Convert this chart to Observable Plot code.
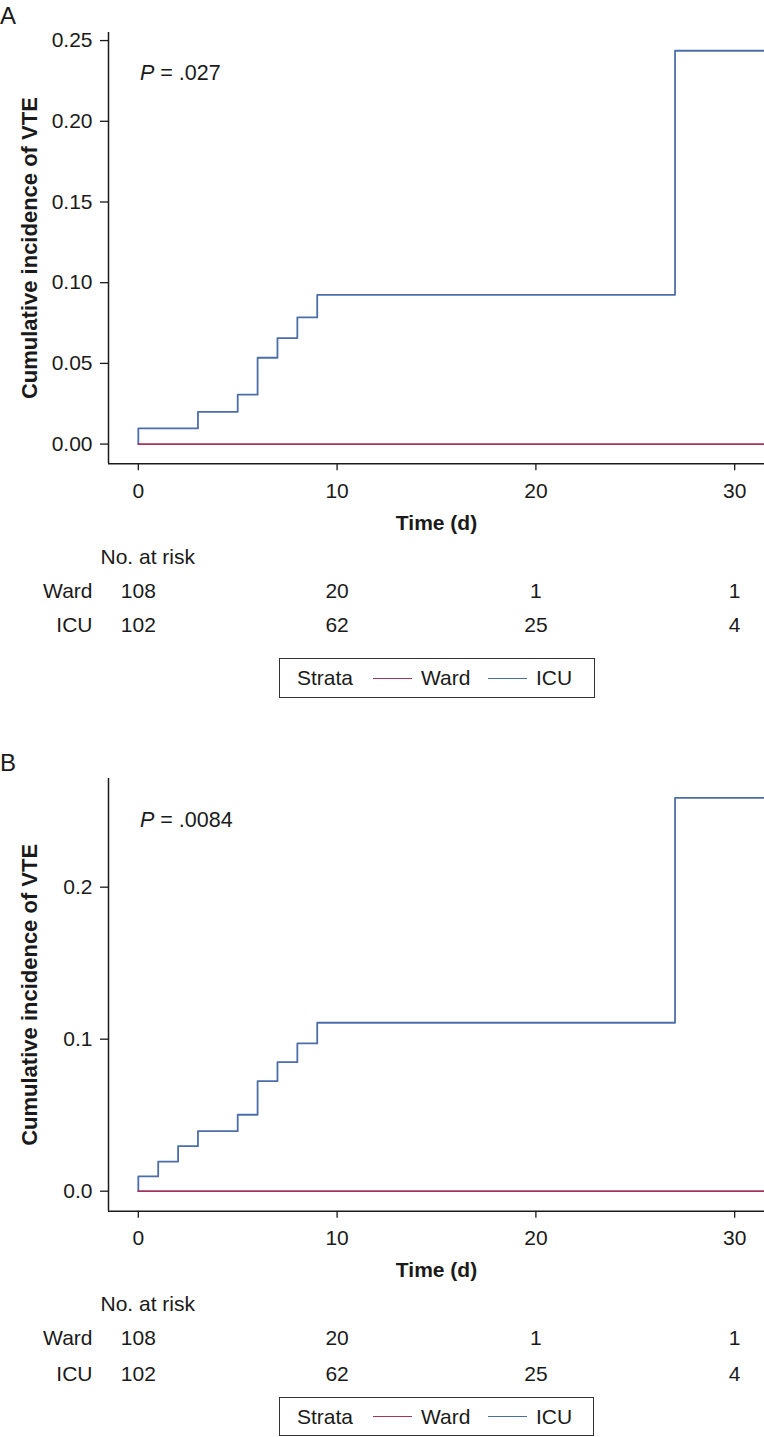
<!DOCTYPE html>
<html><head><meta charset="utf-8">
<script src="https://cdn.jsdelivr.net/npm/d3@7"></script>
<script src="https://cdn.jsdelivr.net/npm/@observablehq/plot@0.6"></script>
<style>
body{margin:0;background:#fff;font-family:"Liberation Sans",Arial,Helvetica,sans-serif;color:#1a1a1a}
#page{position:relative;width:764px;height:1437px;overflow:hidden;background:#fff}
.abs{position:absolute;line-height:1;white-space:nowrap}
.legend{position:absolute;border:1.5px solid #333;box-sizing:border-box;background:#fff}
.sw{position:absolute;height:0;border-top:1.6px solid}
</style></head><body><div id="page"></div>
<script>
// ---------- data ----------
const strata = ["Ward", "ICU"];
const strataColors = ["#a3355a", "#4c6ea8"];
const xTicks = [0, 10, 20, 30];
const riskTimes = [0, 10, 20, 30];
const followUpEnd = 32;

// Panel A
const icuEventTimesA = [0, 3, 5, 6, 7, 8, 9, 27];
const icuIncidenceA = [0.0097, 0.0200, 0.0306, 0.0535, 0.0657, 0.0785, 0.0925, 0.2437];
const wardEventTimesA = [];
const wardIncidenceA = [];
const atRiskWardA = [108, 20, 1, 1];
const atRiskIcuA = [102, 62, 25, 4];
const pValueA = ".027";
const yTicksA = [0, 0.05, 0.10, 0.15, 0.20, 0.25];

// Panel B
const icuEventTimesB = [0, 1, 2, 3, 5, 6, 7, 8, 9, 27];
const icuIncidenceB = [0.0097, 0.0195, 0.0296, 0.0395, 0.0503, 0.0724, 0.0849, 0.0972, 0.1108, 0.2588];
const wardEventTimesB = [];
const wardIncidenceB = [];
const atRiskWardB = [108, 20, 1, 1];
const atRiskIcuB = [102, 62, 25, 4];
const pValueB = ".0084";
const yTicksB = [0, 0.1, 0.2];

// ---------- helpers ----------
const FONT = '"Liberation Sans", Arial, Helvetica, sans-serif';
const INK = "#1a1a1a";
const xDomain = [-1.5, 31.5];
const page = document.getElementById("page");

function stepSeries(times, values, name) {
  const pts = [{time: 0, value: 0, strata: name}];
  times.forEach((t, i) => pts.push({time: t, value: values[i], strata: name}));
  pts.push({time: followUpEnd, value: pts[pts.length - 1].value, strata: name});
  return pts;
}

function place(el, top, left) {
  el.style.position = "absolute";
  el.style.top = top + "px";
  el.style.left = left + "px";
  page.appendChild(el);
}

function htmlText(html, left, baseline, size, extra) {
  const d = document.createElement("div");
  d.className = "abs";
  d.style.fontSize = size + "px";
  d.innerHTML = html;
  if (extra) Object.assign(d.style, extra);
  d.style.left = left + "px";
  d.style.top = (baseline - 0.8465 * size) + "px";
  page.appendChild(d);
  return d;
}

function mainPlot(cfg) {
  const rows = [
    ...stepSeries(cfg.icuTimes, cfg.icuVals, "ICU"),
    ...stepSeries(cfg.wardTimes, cfg.wardVals, "Ward")
  ];
  return Plot.plot({
    width: 764, height: cfg.height,
    marginLeft: 108, marginRight: 0, marginTop: cfg.marginTop,
    marginBottom: cfg.height - cfg.axisPos,
    style: {fontFamily: FONT, fontSize: "21px", color: INK, background: "transparent", overflow: "visible"},
    x: {domain: xDomain},
    y: {domain: cfg.yDomain},
    color: {domain: strata, range: strataColors},
    marks: [
      Plot.axisX({ticks: xTicks, tickSize: 7, tickPadding: 12, label: null, fontSize: 21, strokeWidth: 1.3}),
      Plot.axisY({ticks: cfg.yTicks, tickFormat: d3.format(cfg.fmt), tickSize: 8, tickPadding: 8, label: null, fontSize: 21, strokeWidth: 1.3}),
      Plot.ruleX([xDomain[0]], {stroke: INK, strokeWidth: 1.5}),
      Plot.ruleY([cfg.yDomain[0]], {stroke: INK, strokeWidth: 1.5}),
      Plot.line(rows, {x: "time", y: "value", z: "strata", stroke: "strata", curve: "step-after", strokeWidth: 1.8, clip: true}),
      Plot.text(["Time (d)"], {text: d => d, frameAnchor: "bottom", dy: 59, lineAnchor: "middle", textAnchor: "middle", fontWeight: "bold", fontSize: 21}),
      Plot.text(["Cumulative incidence of VTE"], {text: d => d, frameAnchor: "left", dx: -79, rotate: -90, textAnchor: "middle", lineAnchor: "middle", fontWeight: "bold", fontSize: 22})
    ]
  });
}

function riskPlot(cfg) {
  const rows = [];
  riskTimes.forEach((t, i) => {
    rows.push({time: t, strata: "Ward", n: cfg.ward[i]});
    rows.push({time: t, strata: "ICU", n: cfg.icu[i]});
  });
  return Plot.plot({
    width: 764, height: cfg.height,
    marginLeft: 108, marginRight: 0, marginTop: cfg.marginTop, marginBottom: cfg.marginBottom,
    style: {fontFamily: FONT, fontSize: "21px", color: INK, background: "transparent", overflow: "visible"},
    x: {domain: xDomain, axis: null},
    y: {type: "point", domain: strata, padding: 0},
    marks: [
      Plot.axisY({tickSize: 0, tickPadding: 16, label: null, fontSize: 21}),
      Plot.text(rows, {x: "time", y: "strata", text: "n", fontSize: 21}),
      Plot.text(["No. at risk"], {text: d => d, frameAnchor: "top-left", dx: -8, dy: -34, textAnchor: "start", lineAnchor: "middle", fontSize: 21})
    ]
  });
}

function legend(top, left, w, h) {
  const box = document.createElement("div");
  box.className = "legend";
  Object.assign(box.style, {top: top + "px", left: left + "px", width: w + "px", height: h + "px"});
  const mid = h / 2 - 1.5;
  const items = [
    {type: "t", text: "Strata", x: 17},
    {type: "s", color: strataColors[0], x: 93, w: 39},
    {type: "t", text: strata[0], x: 141},
    {type: "s", color: strataColors[1], x: 208, w: 39},
    {type: "t", text: strata[1], x: 256}
  ];
  items.forEach(it => {
    const e = document.createElement(it.type === "t" ? "div" : "i");
    if (it.type === "t") {
      e.className = "abs";
      e.style.fontSize = "21px";
      e.textContent = it.text;
      e.style.left = it.x + "px";
      e.style.top = (mid - 10.5) + "px";
    } else {
      e.className = "sw";
      e.style.borderTopColor = it.color;
      e.style.left = it.x + "px";
      e.style.width = it.w + "px";
      e.style.top = (mid) + "px";
    }
    box.appendChild(e);
  });
  page.appendChild(box);
}

// ---------- panel A ----------
htmlText("A", 0, 24, 24);
place(mainPlot({
  icuTimes: icuEventTimesA, icuVals: icuIncidenceA,
  wardTimes: wardEventTimesA, wardVals: wardIncidenceA,
  yDomain: [-0.01221, 0.2550], yTicks: yTicksA, fmt: ".2f",
  height: 540, marginTop: 32, axisPos: 463.3
}), 0, 0);
htmlText("<i>P</i> = " + pValueA, 140, 81, 21.5);
place(riskPlot({ward: atRiskWardA, icu: atRiskIcuA, height: 100, marginTop: 51, marginBottom: 15}), 540, 0);
legend(658, 279, 316, 40);

// ---------- panel B ----------
htmlText("B", 0, 771, 24);
place(mainPlot({
  icuTimes: icuEventTimesB, icuVals: icuIncidenceB,
  wardTimes: wardEventTimesB, wardVals: wardIncidenceB,
  yDomain: [-0.01316, 0.2715], yTicks: yTicksB, fmt: ".1f",
  height: 540, marginTop: 32, axisPos: 464.7
}), 746, 0);
htmlText("<i>P</i> = " + pValueB, 140, 828, 21.5);
place(riskPlot({ward: atRiskWardB, icu: atRiskIcuB, height: 100, marginTop: 50, marginBottom: 14}), 1288, 0);
legend(1397, 279, 315, 39);
</script></body></html>
